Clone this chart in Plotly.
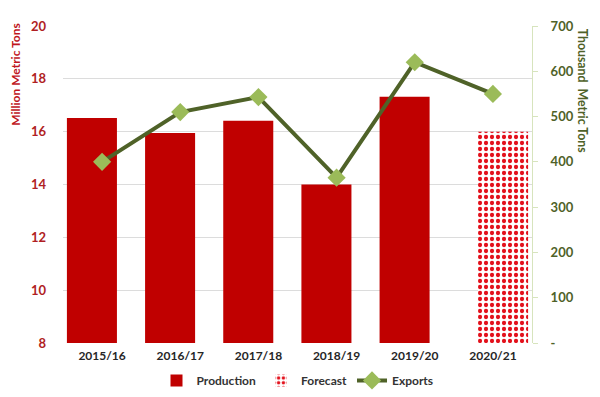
import plotly.graph_objects as go

years = ["2015/16", "2016/17", "2017/18", "2018/19", "2019/20", "2020/21"]
production = [16.52, 15.95, 16.41, 14.0, 17.32, None]
forecast = [None, None, None, None, None, 16.0]
exports = [400, 510, 543, 365, 620, 550]

BASE = 8
RED = "#C00000"
DARKGREEN = "#4F6228"
LIGHTGREEN = "#9BBB59"
FONT = "Lato"

prod_h = [v - BASE if v is not None else None for v in production]
fc_h = [v - BASE if v is not None else None for v in forecast]

fig = go.Figure()
fig.add_trace(go.Bar(
    x=years, y=prod_h, name="Production", base=BASE,
    marker=dict(color=RED, line=dict(width=0)),
    width=0.64, offset=-0.45,
    customdata=production, hovertemplate="%{customdata}<extra></extra>",
))
fig.add_trace(go.Bar(
    x=years, y=fc_h, name="Forecast", base=BASE,
    marker=dict(color="white", line=dict(width=0),
                pattern=dict(shape=".", fgcolor="#E3101B", bgcolor="white",
                             size=6, solidity=0.4, fillmode="replace")),
    width=0.64, offset=-0.19,
    customdata=forecast, hovertemplate="%{customdata}<extra></extra>",
))
fig.add_trace(go.Scatter(
    x=years, y=exports, name="Exports", yaxis="y2", mode="lines+markers",
    line=dict(color=DARKGREEN, width=4),
    marker=dict(symbol="diamond", size=14, color=LIGHTGREEN,
                line=dict(width=0)),
))

fig.update_layout(
    width=592, height=389,
    margin=dict(l=55, r=68, t=18, b=54, autoexpand=False),
    paper_bgcolor="white", plot_bgcolor="white",
    font=dict(family=FONT, size=12, color="#333333"),
    barmode="overlay",
    showlegend=True,
    legend=dict(orientation="h", x=0.5, xanchor="center",
                yref="container", y=0.08, yanchor="top",
                font=dict(family=FONT, size=12, color="#333333", weight="bold"),
                traceorder="normal", itemwidth=30),
    xaxis=dict(
        type="category", showgrid=False, showline=False, ticks="",
        tickfont=dict(family=FONT, size=12, color="#262626", weight="bold"),
        range=[-0.5, 5.5], ticklabelstandoff=4, automargin=False,
    ),
    yaxis=dict(
        range=[8, 20], dtick=2, tick0=8, showgrid=True, gridcolor="#DCDCDC",
        gridwidth=1, zeroline=False, showline=False, ticks="",
        tickfont=dict(family=FONT, size=13, color="#B01E23", weight="bold"),
        ticklabelstandoff=16, automargin=False,
    ),
    yaxis2=dict(
        range=[0, 700], overlaying="y", side="right", showgrid=False,
        zeroline=False, showline=True, linecolor="#D7E4BD", linewidth=1,
        ticks="outside", ticklen=5, tickcolor="#D7E4BD",
        tickvals=[0, 100, 200, 300, 400, 500, 600, 700],
        ticktext=["-", "100", "200", "300", "400", "500", "600", "700"],
        tickfont=dict(family=FONT, size=13, color="#4F6228", weight="bold"),
        ticklabelstandoff=10, automargin=False,
    ),
    annotations=[
        dict(text="Million Metric Tons", xref="paper", yref="paper",
             x=-0.1013, y=1.015, xanchor="center", yanchor="top", textangle=-90,
             showarrow=False,
             font=dict(family=FONT, size=12, color="#C0161D", weight="bold")),
        dict(text="Thousand  Metric Tons", xref="paper", yref="paper",
             x=1.107, y=0.997, xanchor="center", yanchor="top", textangle=90,
             showarrow=False,
             font=dict(family=FONT, size=12.3, color="#4F6228", weight="bold")),
    ],
)

fig.write_html("out.html")
